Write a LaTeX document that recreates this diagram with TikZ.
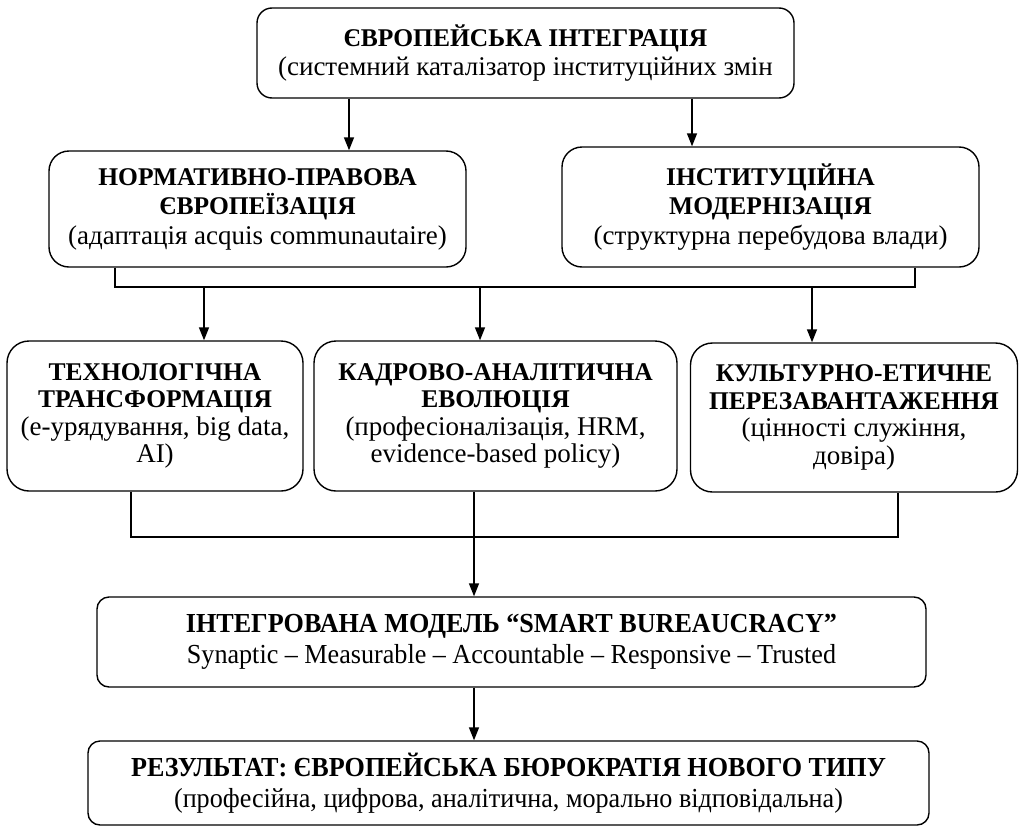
\documentclass[tikz,border=0pt]{standalone}
\usepackage{fontspec}
\setmainfont{Liberation Serif}
\newfontfamily\condfont[FakeStretch=0.95]{Liberation Serif}
\usetikzlibrary{arrows.meta}
\newcommand{\fr}{\fontsize{27}{29.5}\selectfont}
\newcommand{\frr}{\fontsize{27}{27.5}\selectfont}
\newcommand{\bt}{\fontsize{25.5}{29.5}\selectfont\bfseries}
\newcommand{\btt}{\fontsize{25.5}{27.5}\selectfont\bfseries}
\newcommand{\fc}{\condfont\fontsize{27.5}{31}\selectfont}
\tikzset{
  box/.style={draw, line width=1.4pt, rounded corners=#1, align=center, inner sep=0pt, font=\fr},
  box/.default=18pt,
  rowbox/.style={box=22pt, font=\frr},
  lowbox/.style={box=12pt, font=\fc},
  arr/.style={line width=1.4pt, -{Triangle[width=10pt,length=13pt]}},
  ln/.style={line width=1.4pt}
}
\begin{document}
\begin{tikzpicture}[x=1pt,y=-1pt]
\useasboundingbox (0,0) rectangle (1019,827);
\node[box=15pt, minimum width=537pt, minimum height=90pt] (top) at (525.5,53)
  {{\bt ЄВРОПЕЙСЬКА ІНТЕГРАЦІЯ}\\(системний каталізатор інституційних змін};
\node[box=20pt, minimum width=417pt, minimum height=116pt] (n2) at (257.5,209)
  {{\bt НОРМАТИВНО-ПРАВОВА}\\{\bt ЄВРОПЕЇЗАЦІЯ}\\(адаптація acquis communautaire)};
\node[box=20pt, minimum width=417pt, minimum height=120pt] (n3) at (770.5,207)
  {{\bt ІНСТИТУЦІЙНА}\\{\bt МОДЕРНІЗАЦІЯ}\\(структурна перебудова влади)};
\node[rowbox, minimum width=296pt, minimum height=150pt] (nA) at (155,416)
  {{\btt ТЕХНОЛОГІЧНА}\\{\btt ТРАНСФОРМАЦІЯ}\\(е-урядування, big data,\\AI)};
\node[rowbox, minimum width=363pt, minimum height=150pt] (nB) at (495.5,416)
  {{\btt КАДРОВО-АНАЛІТИЧНА}\\{\btt ЕВОЛЮЦІЯ}\\(професіоналізація, HRM,\\evidence-based policy)};
\node[rowbox, minimum width=327pt, minimum height=149pt] (nC) at (854,417.5)
  {{\btt КУЛЬТУРНО-ЕТИЧНЕ}\\{\btt ПЕРЕЗАВАНТАЖЕННЯ}\\(цінності служіння,\\довіра)};
\node[lowbox, minimum width=829pt, minimum height=90pt] (nD) at (511.5,642)
  {\textbf{ІНТЕГРОВАНА МОДЕЛЬ “SMART BUREAUCRACY”}\\Synaptic – Measurable – Accountable – Responsive – Trusted};
\node[lowbox, minimum width=841pt, minimum height=84pt] (nE) at (508.5,783)
  {\textbf{РЕЗУЛЬТАТ: ЄВРОПЕЙСЬКА БЮРОКРАТІЯ НОВОГО ТИПУ}\\(професійна, цифрова, аналітична, морально відповідальна)};
% top arrows
\coordinate (t1) at (349,0);
\coordinate (t2) at (692,0);
\draw[arr] (top.south -| t1) -- (n2.north -| t1);
\draw[arr] (top.south -| t2) -- (n3.north -| t2);
% bus 1
\coordinate (b1l) at (115,287);
\coordinate (b1r) at (915,287);
\coordinate (b1a) at (204,287);
\coordinate (b1b) at (480,287);
\coordinate (b1c) at (812,287);
\draw[ln] (n2.south -| b1l) -- (b1l) -- (b1r) -- (n3.south -| b1r);
\draw[arr] (b1a) -- (nA.north -| b1a);
\draw[arr] (b1b) -- (nB.north -| b1b);
\draw[arr] (b1c) -- (nC.north -| b1c);
% bus 2
\coordinate (b2l) at (131,537);
\coordinate (b2r) at (898,537);
\coordinate (bb) at (474,0);
\draw[ln] (nA.south -| b2l) -- (b2l) -- (b2r) -- (nC.south -| b2r);
\draw[arr] (nB.south -| bb) -- (nD.north -| bb);
\draw[arr] (nD.south -| bb) -- (nE.north -| bb);
\end{tikzpicture}
\end{document}
